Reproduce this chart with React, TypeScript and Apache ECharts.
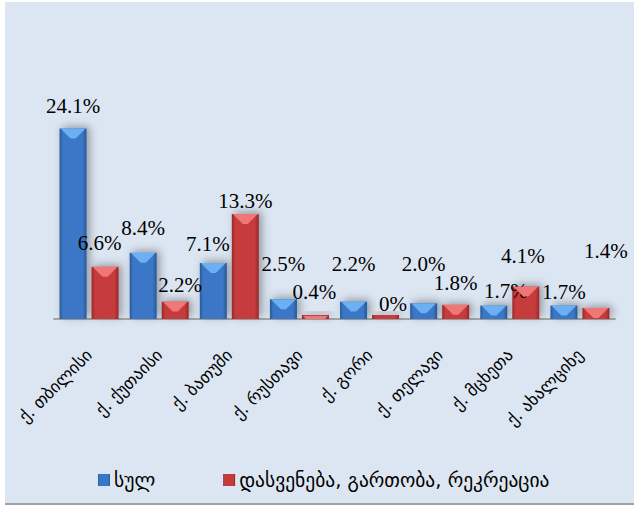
import React, { useEffect, useRef } from "react";
import * as echarts from "echarts";

const categories = [
  "ქ. თბილისი",
  "ქ. ქუთაისი",
  "ქ. ბათუმი",
  "ქ. რუსთავი",
  "ქ. გორი",
  "ქ. თელავი",
  "ქ. მცხეთა",
  "ქ. ახალციხე",
];
const seriesNames = ["სულ", "დასვენება, გართობა, რეკრეაცია"];
const totalValues = [24.1, 8.4, 7.1, 2.5, 2.2, 2.0, 1.7, 1.7];
const leisureValues = [6.6, 2.2, 13.3, 0.4, 0, 1.8, 4.1, 1.4];

// label placement tweaks (layout only)
const totalLabelOffsets = [
  [0, -12], [0, -14.5], [-5.5, -8.5], [0, -24.5], [0, -27.5], [0, -29], [12, -4.5], [0, -3.5],
];
const leisureLabelOffsets = [
  [-5.5, -13], [5, -6.5], [0, -2.5], [-1, -12.7], [7.5, -0.5], [0, -11.5], [-3, -20.5], [10, -46],
];

const fmt = (v: number) => (v === 0 ? "0%" : v.toFixed(1) + "%");

function grad(edge: string, mid: string) {
  return new echarts.graphic.LinearGradient(0, 0, 1, 0, [
    { offset: 0, color: edge },
    { offset: 0.12, color: mid },
    { offset: 0.85, color: mid },
    { offset: 1, color: edge },
  ]);
}

export default function App() {
  const ref = useRef<HTMLDivElement>(null);
  useEffect(() => {
    document.body.style.margin = "0";
    if (!ref.current) return;
    const chart = echarts.init(ref.current, null, { renderer: "svg" });
    const labelFont = { fontFamily: "Liberation Serif", fontSize: 21, color: "#000" };
    const barCommon = {
      type: "bar" as const,
      barWidth: 27,
      barGap: "18.5%",
      z: 2,
    };
    const bevelCommon = {
      type: "pictorialBar" as const,
      barWidth: 27,
      barGap: "18.5%",
      symbol: "path://M0,0 L10,0 L6,3 L4,3 Z",
      symbolSize: [25, 10],
      symbolPosition: "end",
      symbolClip: true,
      z: 3,
      silent: true,
      tooltip: { show: false },
      legendHoverLink: false,
    };
    chart.setOption({
      animation: false,
      backgroundColor: "transparent",
      grid: { left: 54, right: 19, top: 82, bottom: 186 },
      legend: {
        data: seriesNames,
        left: 93,
        top: 465,
        itemWidth: 12,
        itemHeight: 12,
        itemGap: 68,
        icon: "rect",
        textStyle: { fontFamily: "DejaVu Sans", fontSize: 19.5, color: "#000", padding: [0, 0, 0, -1] },
      },
      xAxis: {
        type: "category",
        data: categories,
        axisLine: { lineStyle: { color: "#a6a6a6", width: 2 } },
        axisTick: { show: false },
        axisLabel: {
          rotate: 45,
          margin: 33,
          interval: 0,
          fontFamily: "DejaVu Sans",
          fontSize: 17,
          color: "#000",
        },
      },
      yAxis: { type: "value", min: 0, max: 30, show: false, splitLine: { show: false } },
      series: [
        {
          ...barCommon,
          name: seriesNames[0],
          data: totalValues.map((v, i) => ({
            value: v,
            label: { offset: totalLabelOffsets[i] },
          })),
          itemStyle: {
            color: grad("#285796", "#3a77c6"),
            shadowBlur: 8,
            shadowColor: "rgba(0,0,0,0.35)",
            shadowOffsetX: 3,
            shadowOffsetY: -2,
          },
          label: {
            show: true,
            position: "top",
            distance: 0,
            formatter: (p: any) => fmt(p.value),
            ...labelFont,
          },
        },
        {
          ...barCommon,
          name: seriesNames[1],
          barMinHeight: 4,
          data: leisureValues.map((v, i) => ({
            value: v,
            label: { offset: leisureLabelOffsets[i] },
          })),
          itemStyle: {
            color: grad("#962829", "#c63a3b"),
            shadowBlur: 8,
            shadowColor: "rgba(0,0,0,0.35)",
            shadowOffsetX: 3,
            shadowOffsetY: -2,
          },
          label: {
            show: true,
            position: "top",
            distance: 0,
            formatter: (p: any) => fmt(p.value),
            ...labelFont,
          },
        },
        {
          ...bevelCommon,
          name: "bevel1",
          data: totalValues,
          itemStyle: { color: "#6cb0f4" },
        },
        {
          ...bevelCommon,
          name: "bevel2",
          data: leisureValues,
          itemStyle: { color: "#ef7777" },
        },
      ],
    });
    return () => chart.dispose();
  }, []);
  return (
    <div style={{ position: "relative", width: 634, height: 505, background: "#fff" }}>
      <div
        style={{
          position: "absolute",
          left: 5,
          top: 2,
          width: 629,
          height: 501,
          background: "#dce6f2",
          borderBottom: "2px solid #a0a0a0",
        }}
      />
      <div ref={ref} style={{ position: "absolute", left: 0, top: 0, width: 634, height: 505 }} />
    </div>
  );
}
